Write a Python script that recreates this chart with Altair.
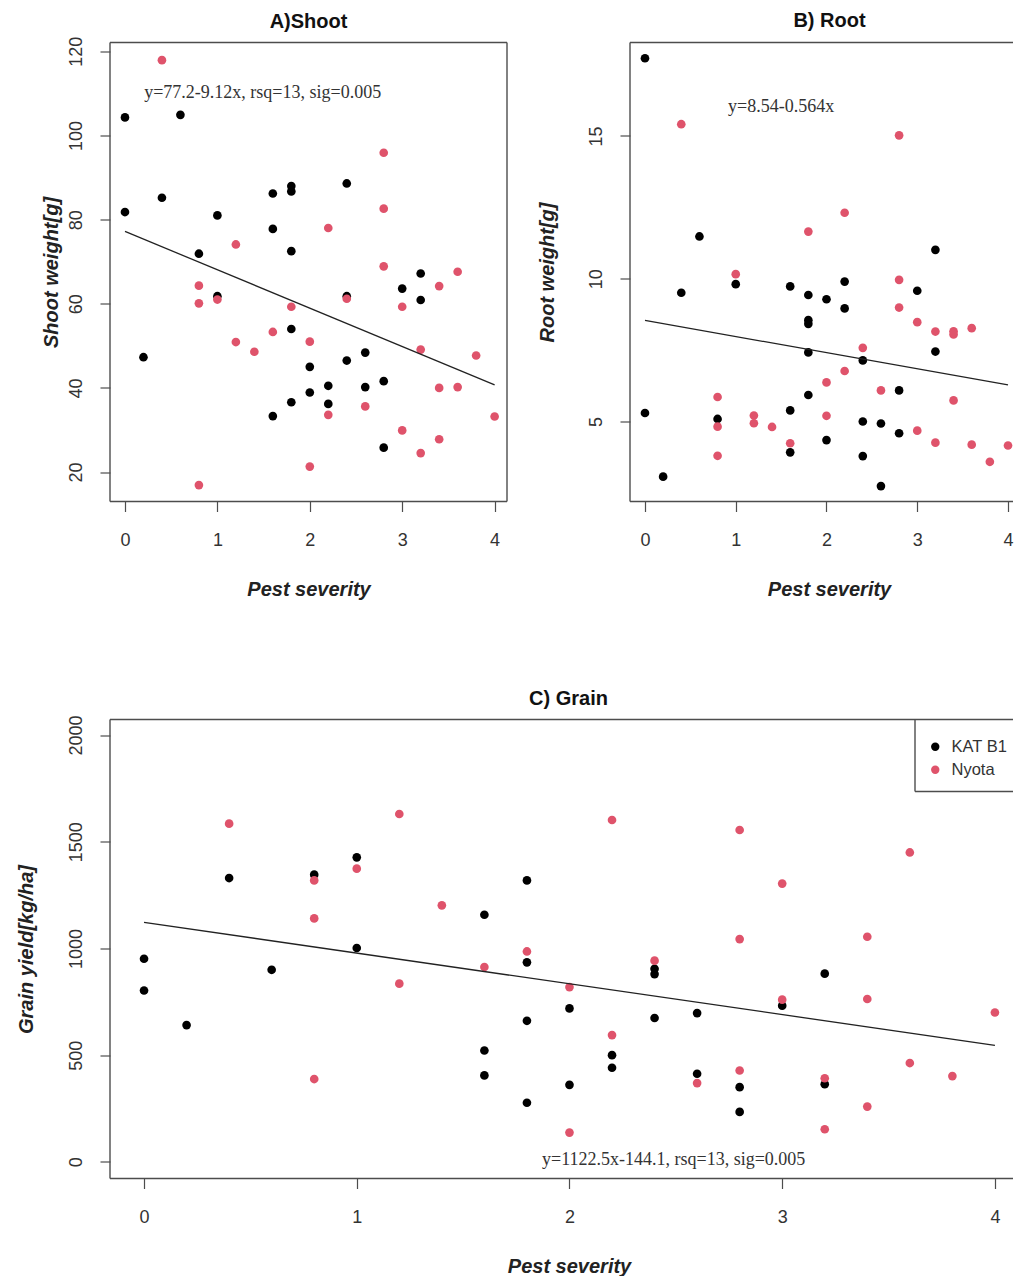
import altair as alt
import pandas as pd

VARIETIES = ["KAT B1", "Nyota"]
COLORS = ["#000000", "#DF536B"]
X_TICKS = [0, 1, 2, 3, 4]

# A) Shoot weight [g]
shoot_kat_x = [0, 0, 0.2, 0.4, 0.6, 0.8, 1.0, 1.0, 1.6, 1.6, 1.6, 1.8, 1.8, 1.8, 1.8, 1.8,
               2.0, 2.0, 2.2, 2.2, 2.4, 2.4, 2.4, 2.6, 2.6, 2.8, 2.8, 3.0, 3.2, 3.2]
shoot_kat_y = [104.3, 81.8, 47.3, 85.2, 104.9, 71.9, 81.0, 61.8, 86.2, 77.8, 33.3, 88.0, 86.7,
               72.5, 54.0, 36.6, 45.0, 38.9, 40.5, 36.2, 88.6, 61.8, 46.5, 48.4, 40.2, 41.6,
               25.8, 63.6, 67.2, 60.9]
shoot_nyota_x = [0.4, 0.8, 0.8, 0.8, 1.0, 1.2, 1.2, 1.4, 1.6, 1.8, 2.0, 2.0, 2.2, 2.2, 2.4,
                 2.6, 2.8, 2.8, 2.8, 3.0, 3.0, 3.2, 3.2, 3.4, 3.4, 3.4, 3.6, 3.6, 3.8, 4.0]
shoot_nyota_y = [117.9, 64.3, 60.1, 16.9, 61.0, 74.1, 50.9, 48.6, 53.3, 59.3, 51.0, 21.3, 78.0,
                 33.6, 61.2, 35.6, 95.9, 82.6, 68.9, 59.3, 29.9, 49.1, 24.5, 64.2, 40.0, 27.8,
                 67.6, 40.2, 47.7, 33.2]

# B) Root weight [g]
root_kat_x = [0, 0, 0.2, 0.4, 0.6, 0.8, 1.0, 1.6, 1.6, 1.6, 1.8, 1.8, 1.8, 1.8, 1.8, 2.0, 2.0,
              2.2, 2.2, 2.4, 2.4, 2.4, 2.6, 2.6, 2.8, 2.8, 3.0, 3.2, 3.2]
root_kat_y = [17.72, 5.30, 3.07, 9.51, 11.48, 5.09, 9.81, 9.73, 5.39, 3.92, 9.43, 8.55, 8.42,
              7.42, 5.93, 9.28, 4.35, 9.90, 8.96, 7.14, 5.00, 3.79, 4.93, 2.74, 6.09, 4.59,
              9.58, 11.01, 7.45]
root_nyota_x = [0.4, 0.8, 0.8, 0.8, 1.0, 1.2, 1.2, 1.4, 1.6, 1.8, 2.0, 2.0, 2.2, 2.2, 2.4,
                2.6, 2.8, 2.8, 2.8, 3.0, 3.0, 3.2, 3.2, 3.4, 3.4, 3.4, 3.6, 3.6, 3.8, 4.0]
root_nyota_y = [15.41, 5.86, 4.82, 3.80, 10.16, 5.21, 4.94, 4.81, 4.24, 11.65, 6.37, 5.20,
                12.31, 6.77, 7.58, 6.09, 15.02, 9.96, 8.99, 8.48, 4.68, 8.15, 4.26, 8.16, 8.05,
                5.74, 8.27, 4.19, 3.59, 4.16]

# C) Grain yield [kg/ha]
grain_kat_x = [0, 0, 0.2, 0.4, 0.6, 0.8, 1.0, 1.0, 1.6, 1.6, 1.6, 1.8, 1.8, 1.8, 1.8, 2.0, 2.0,
               2.2, 2.2, 2.4, 2.4, 2.4, 2.6, 2.6, 2.8, 2.8, 3.0, 3.2, 3.2]
grain_kat_y = [952, 803, 641, 1330, 900, 1346, 1427, 1002, 1158, 522, 405, 1319, 935, 661, 277,
               719, 361, 500, 441, 905, 880, 674, 697, 413, 350, 234, 732, 882, 364]
grain_nyota_x = [0.4, 0.8, 0.8, 0.8, 1.0, 1.2, 1.2, 1.4, 1.6, 1.8, 2.0, 2.0, 2.2, 2.2, 2.4,
                 2.6, 2.8, 2.8, 2.8, 3.0, 3.0, 3.2, 3.2, 3.4, 3.4, 3.4, 3.6, 3.6, 3.8, 4.0]
grain_nyota_y = [1585, 1319, 1141, 388, 1374, 1630, 835, 1202, 913, 986, 819, 137, 1602, 594,
                 943, 369, 1555, 1044, 428, 1304, 760, 392, 153, 1055, 763, 259, 1450, 463, 402,
                 700]

# fitted lines (intercept, slope) and their printed labels
fit_intercepts = [77.2, 8.54, 1122.5]
fit_slopes = [-9.12, -0.564, -144.1]
fit_x_range = [0, 4]
fit_labels = ["y=77.2-9.12x, rsq=13, sig=0.005",
              "y=8.54-0.564x",
              "y=1122.5x-144.1, rsq=13, sig=0.005"]
label_pos = [(1.49, 110.2), (1.50, 16.0), (2.49, 9.0)]

FRAME = "#4d4d4d"
TXT = "#333333"
SANS = "Liberation Sans"


def make_df(kx, ky, nx, ny):
    return pd.DataFrame({
        "x": list(kx) + list(nx),
        "y": list(ky) + list(ny),
        "variety": [VARIETIES[0]] * len(kx) + [VARIETIES[1]] * len(nx),
    })


def rule(**enc):
    return alt.Chart(pd.DataFrame({"k": [0]})).mark_rule(
        color=FRAME, strokeWidth=1.4).encode(**enc)


def panel(df, idx, title, ytitle, xdom, ydom, yticks, w, h, ytitle_pad, title_offset,
          title_dx=0, xtitle_x=None, legend=None, right_edge=True, legend_box=None):
    xaxis_kw = dict(values=X_TICKS, title="Pest severity", format="d",
                    grid=False, domain=False, tickSize=10, tickWidth=1.2,
                    tickColor=FRAME, labelPadding=20, labelFontSize=18,
                    labelFont=SANS, labelColor=TXT, labelFlush=False,
                    labelOverlap=False, titleFont=SANS, titleFontSize=20,
                    titleFontWeight="bold", titleFontStyle="italic",
                    titleColor="#222222", titlePadding=78, minExtent=0, maxExtent=0)
    if xtitle_x is not None:
        xaxis_kw["titleX"] = xtitle_x
    xaxis = alt.Axis(**xaxis_kw)
    yaxis = alt.Axis(values=yticks, title=ytitle, format="d", grid=False, domain=False,
                     tickSize=10, tickWidth=1.2, tickColor=FRAME, labelPadding=15,
                     labelFontSize=18, labelFont=SANS, labelColor=TXT, labelAngle=-90,
                     labelAlign="center", labelBaseline="bottom", labelFlush=False,
                     labelOverlap=False, titleFont=SANS, titleFontSize=20,
                     titleFontWeight="bold", titleFontStyle="italic",
                     titleColor="#222222", titlePadding=ytitle_pad, minExtent=0,
                     maxExtent=0)
    xs = alt.Scale(domain=xdom, nice=False, zero=False)
    ys = alt.Scale(domain=ydom, nice=False, zero=False)
    cs = alt.Scale(domain=VARIETIES, range=COLORS)

    pts = alt.Chart(df).mark_circle(size=75, opacity=1).encode(
        x=alt.X("x:Q", scale=xs, axis=xaxis),
        y=alt.Y("y:Q", scale=ys, axis=yaxis),
        color=alt.Color("variety:N", scale=cs, legend=legend),
    )
    a, b = fit_intercepts[idx], fit_slopes[idx]
    line = alt.Chart(pd.DataFrame({"x": fit_x_range})).transform_calculate(
        y=f"{a} + ({b}) * datum.x"
    ).mark_line(color="#222222", strokeWidth=1.3).encode(
        x=alt.X("x:Q", scale=xs), y=alt.Y("y:Q", scale=ys))
    lx, ly = label_pos[idx]
    txt = alt.Chart(pd.DataFrame({"x": [lx], "y": [ly], "t": [fit_labels[idx]]})).mark_text(
        font="Liberation Serif", fontSize=18, color=TXT, align="center", baseline="middle"
    ).encode(x=alt.X("x:Q", scale=xs), y=alt.Y("y:Q", scale=ys), text="t:N")

    edges = [
        rule(x=alt.value(0), x2=alt.value(w), y=alt.value(0)),
        rule(x=alt.value(0), x2=alt.value(w), y=alt.value(h)),
        rule(x=alt.value(0), y=alt.value(0), y2=alt.value(h)),
    ]
    if right_edge:
        edges.append(rule(x=alt.value(w), y=alt.value(0), y2=alt.value(h)))
    if legend_box is not None:
        bx, bh = legend_box
        edges.append(rule(x=alt.value(bx), y=alt.value(0), y2=alt.value(bh)))
        edges.append(rule(x=alt.value(bx), x2=alt.value(w), y=alt.value(bh)))

    return alt.layer(pts, line, txt, *edges).properties(
        width=w, height=h,
        title=alt.TitleParams(title, font=SANS, fontSize=20, fontWeight="bold",
                              color="#111111", offset=title_offset, anchor="middle",
                              dx=title_dx, frame="group"),
    )


dfA = make_df(shoot_kat_x, shoot_kat_y, shoot_nyota_x, shoot_nyota_y)
dfB = make_df(root_kat_x, root_kat_y, root_nyota_x, root_nyota_y)
dfC = make_df(grain_kat_x, grain_kat_y, grain_nyota_x, grain_nyota_y)

PANEL_H = 459

A = panel(dfA, 0, "A)Shoot", "Shoot weight[g]", [-0.162, 4.134], [13.0, 122.1],
          [20, 40, 60, 80, 100, 120], 397, PANEL_H, 49, 4.5)
B = panel(dfB, 1, "B) Root", "Root weight[g]", [-0.165, 4.055], [2.2, 18.27],
          [5, 10, 15], 383, PANEL_H, 73, 10.7, title_dx=8, xtitle_x=199, right_edge=False)
legC = alt.Legend(title=None, orient="none", legendX=815, legendY=17, padding=2,
                  symbolType="circle", symbolSize=70, symbolOpacity=1, labelFont=SANS,
                  labelFontSize=16.5, labelColor=TXT, labelOffset=8, rowPadding=6)
C = panel(dfC, 2, "C) Grain", "Grain yield[kg/ha]", [-0.16, 4.085], [-78, 2073],
          [0, 500, 1000, 1500, 2000], 903, PANEL_H, 74, 6.2, title_dx=7, xtitle_x=459,
          legend=legC, right_edge=False, legend_box=(805, 72))

top = alt.hconcat(A, B, spacing=123, bounds="flush")
# in flush mode the nested row contributes no height, so the gap includes the panel height
chart = alt.vconcat(top, C, spacing=PANEL_H + 218, bounds="flush").resolve_scale(
    color="independent"
).properties(
    padding={"left": 8, "top": 2.5, "right": 0, "bottom": 0}
).configure_view(stroke=None)

chart.save("out.html", embed_options={"renderer": "svg", "actions": False})
